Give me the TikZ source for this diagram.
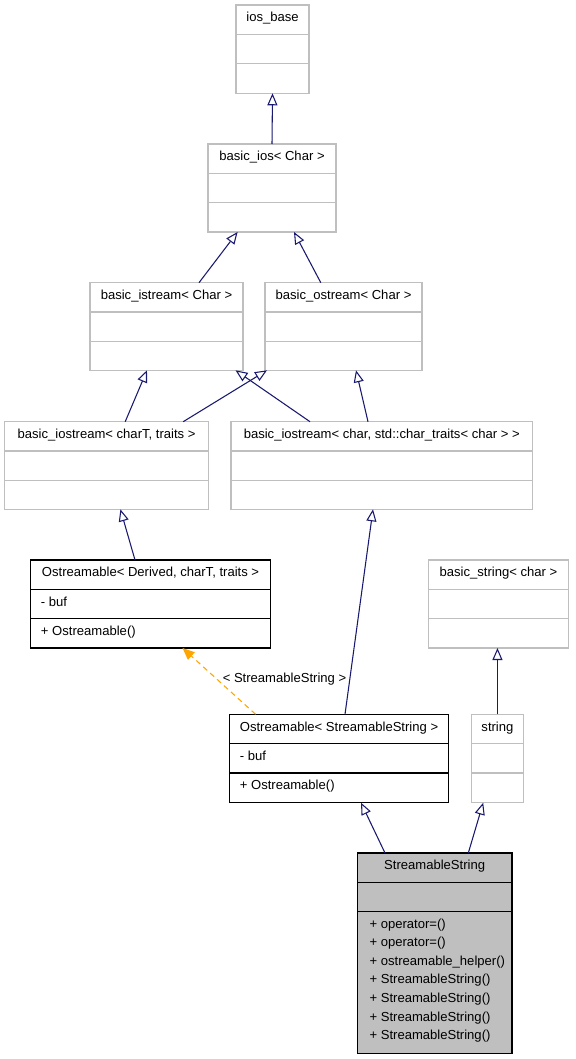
\documentclass[tikz,border=0pt]{standalone}
\usepackage{fontspec}
\setmainfont{Liberation Sans}
\usetikzlibrary{calc,arrows.meta}
\definecolor{edgeblue}{RGB}{25,25,112}
\definecolor{tplorange}{RGB}{255,165,0}
\definecolor{extgray}{RGB}{191,191,191}
\def\classbox[#1](#2)(#3,#4)(#5,#6)#7{
	\node[#1, minimum width={(#5-#3)*0.75pt}, minimum height={(#6-#4)*0.75pt}] (#2) at ({(#3+#5)/2},{(#4+#6)/2}) {};
	\node[classtitle] at ($(#2.north)+(0,13.6)$) {#7};
	\draw[#1, fill=none] ($(#2.north west)+(0,29.4)$) -- ($(#2.north east)+(0,29.4)$);
	\draw[#1, fill=none] ($(#2.north west)+(0,58.8)$) -- ($(#2.north east)+(0,58.8)$);
}

\begin{document}
\begin{tikzpicture}[x=0.75pt, y=-0.75pt,
		extbox/.style={draw=extgray, line width=1pt, inner sep=0pt, outer sep=0pt},
		docbox/.style={draw=black, line width=1pt, inner sep=0pt, outer sep=0pt},
		curbox/.style={docbox, fill=extgray},
		classtitle/.style={inner sep=0pt, text height=7pt, text depth=2pt, font=\fontsize{9.8}{11}\selectfont},
		member/.style={classtitle, anchor=west},
		inherit/.style={draw=edgeblue, line width=0.8pt, -{Triangle[open, length=9pt, width=7.5pt, fill=white]}},
		tplarrow/.style={draw=tplorange, line width=0.8pt, dash pattern=on 4pt off 3pt, -{Triangle[length=9pt, width=7.5pt, fill=tplorange]}}]
			%%%%% START %%%%%
			\useasboundingbox (0,0) rectangle (575,1059);
			
			% std classes
			\classbox[extbox](iosbase)(236,5)(309,93.3){ios\_base}
			\classbox[extbox](basicios)(208,144)(336,232){basic\_ios< Char >}
			\classbox[extbox](istream)(90,282.7)(243,370.3){basic\_istream< Char >}
			\classbox[extbox](ostream)(265,282.7)(422,370.3){basic\_ostream< Char >}
			\classbox[extbox](iostrT)(4.7,421.7)(208.4,509.3){basic\_iostream< charT, traits >}
			\classbox[extbox](iostrC)(231,421.7)(532.5,509.3){basic\_iostream< char, std::char\_traits< char > >}
			\classbox[extbox](bstring)(428.8,560)(568.2,648){basic\_string< char >}
			\classbox[extbox](string)(471.2,714.3)(523.7,802.7){string}
			
			% documented classes
			\classbox[docbox](ostrD)(30.7,560)(270.4,648){Ostreamable< Derived, charT, traits >}
			\node[member] at ($(ostrD.north west)+(10,43)$) {- buf};
			\node[member] at ($(ostrD.north west)+(10,72.3)$) {+ Ostreamable()};
			
			\classbox[docbox](ostrSS)(229.6,714.3)(448.5,802.7){Ostreamable< StreamableString >}
			\node[member] at ($(ostrSS.north west)+(10,43)$) {- buf};
			\node[member] at ($(ostrSS.north west)+(10,72.3)$) {+ Ostreamable()};
			
			\classbox[curbox](sstring)(357.3,853)(512,1053.3){StreamableString}
			\foreach \m [count=\i from 0] in {operator=(), operator=(), ostreamable\_helper(), StreamableString(), StreamableString(), StreamableString(), StreamableString()}
				\node[member] at ($(sstring.north west)+(12,71.7+18.6*\i)$) {+ \m};
			
			% inheritance
			\draw[inherit] (basicios.north) -- (iosbase.south);
			\draw[inherit] ($(istream.north west)+(109,0)$) -- ($(basicios.south west)+(29.6,0)$);
			\draw[inherit] ($(ostream.north west)+(55.8,0)$) -- ($(basicios.south west)+(86,0)$);
			\draw[inherit] ($(iostrT.north west)+(120.5,0)$) -- ($(istream.south west)+(57,0)$);
			\draw[inherit] ($(iostrT.north west)+(178.5,0)$) -- ($(ostream.south west)+(2,0)$);
			\draw[inherit] ($(iostrC.north west)+(79,0)$) -- ($(istream.south east)+(-7.5,0)$);
			\draw[inherit] ($(iostrC.north west)+(137,0)$) -- ($(ostream.south west)+(91,0)$);
			\draw[inherit] ($(ostrD.north west)+(104.3,0)$) -- ($(iostrT.south west)+(115.7,0)$);
			\draw[inherit] ($(ostrSS.north west)+(115.4,0)$) -- ($(iostrC.south west)+(142,0)$);
			\draw[inherit] (string.north) -- (string.north |- bstring.south);
			\draw[inherit] ($(sstring.north west)+(27.7,0)$) -- ($(ostrSS.south west)+(131.4,0)$);
			\draw[inherit] ($(sstring.north west)+(111,0)$) -- ($(string.south west)+(12,0)$);
			
			% template instance
			\draw[tplarrow] ($(ostrSS.north west)+(26,0)$) -- ($(ostrD.south west)+(151.8,0)$);
			\node[classtitle] (tplarg) at (284.5,679) {< StreamableString >};
			
			%%%%% END %%%%%
\end{tikzpicture}
\end{document}
